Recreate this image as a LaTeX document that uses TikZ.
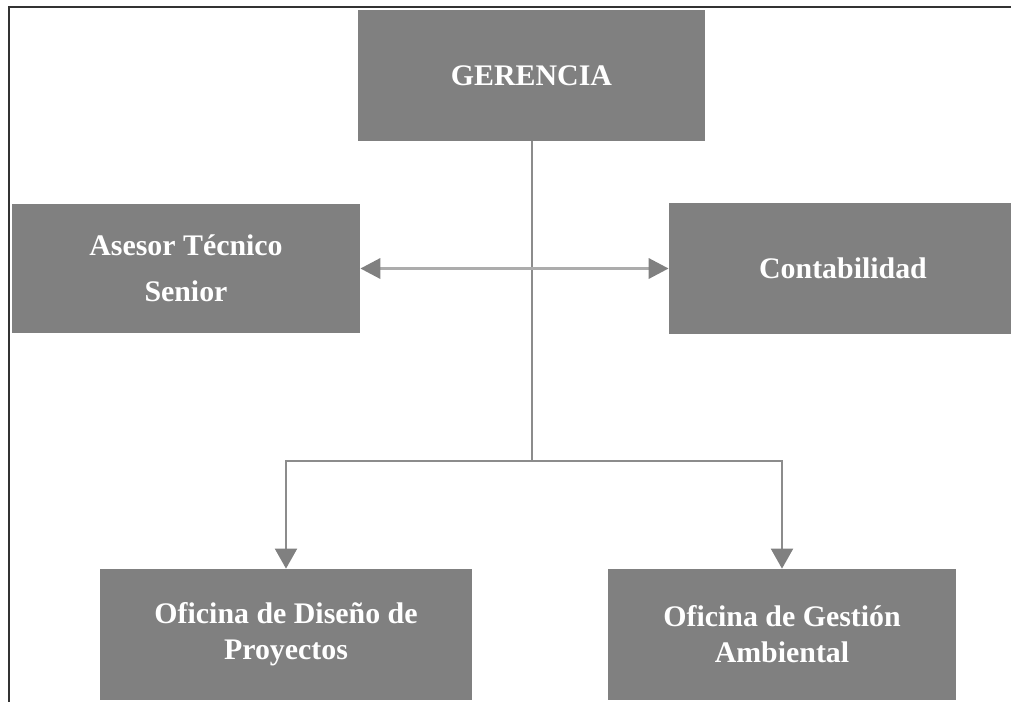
\documentclass[tikz,border=0pt]{standalone}
\usepackage{fontspec}
\setmainfont{Liberation Serif}
\usepackage{tikz}
\usetikzlibrary{positioning, arrows.meta}

\definecolor{boxgray}{RGB}{128,128,128}
\definecolor{linegray}{RGB}{140,140,140}
\definecolor{lightline}{RGB}{172,172,172}

\begin{document}
\begin{tikzpicture}[
    x=0.2mm, y=-0.2mm,
    unit/.style={rectangle, fill=boxgray, text=white, align=center, inner sep=0pt,
        minimum width=69.6mm, minimum height=26.2mm,
        font=\fontsize{17}{20.5}\selectfont\bfseries},
    link/.style={draw=linegray, line width=0.4mm},
    down/.style={link, -{Triangle[width=4.4mm, length=4mm, color=boxgray]}},
    both/.style={draw=lightline, line width=0.7mm,
        {Triangle[width=4mm, length=4mm, color=boxgray]}-{Triangle[width=4mm, length=4mm, color=boxgray]}},
]
\useasboundingbox (0,0) rectangle (1011,702);

% Frame
\draw[line width=0.3mm, black!80] (9,702) -- (9,7) -- (1011,7);

% Draw the units
\node[unit, minimum width=69.4mm] (ger) at (531.5, 75.5) {GERENCIA};
\node[unit, minimum height=25.8mm] (ases) at (186, 268.5) {Asesor Técnico\\[5.7pt] Senior};
\node[unit] (cont) at (843, 268.5) {Contabilidad};
\node[unit, minimum width=74.4mm] (dis) at (286, 634.5) {Oficina de Diseño de\\ Proyectos};
\node[unit] (ges) at (782, 634.5) {Oficina de Gestión\\ Ambiental};

\coordinate (junc) at (531.5, 461);

\draw[link] (ger.south) -- (junc);
\draw[both] (ases.east) -- (cont.west);
\draw[down] (junc) -| (dis.north);
\draw[down] (junc) -| (ges.north);

\end{tikzpicture}
\end{document}
